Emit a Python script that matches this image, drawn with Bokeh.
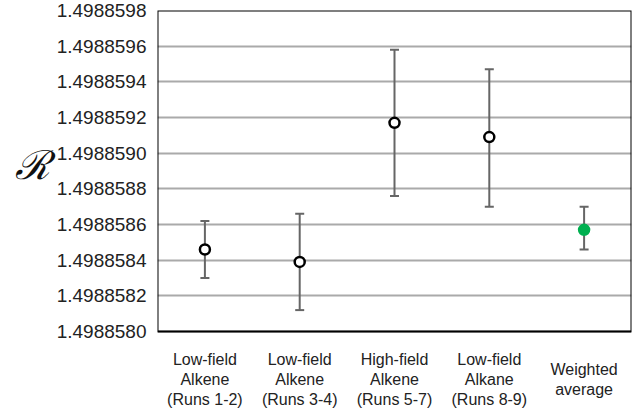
from bokeh.plotting import figure
from bokeh.models import Range1d, FixedTicker, PrintfTickFormatter, Whisker, ColumnDataSource, BoxAnnotation
from bokeh.core.properties import value
from bokeh.embed import file_html
from bokeh.resources import INLINE

categories = ["Low-field\nAlkene\n(Runs 1-2)", "Low-field\nAlkene\n(Runs 3-4)",
              "High-field\nAlkene\n(Runs 5-7)", "Low-field\nAlkane\n(Runs 8-9)",
              "Weighted\naverage"]
values = [1.49885846, 1.49885839, 1.49885917, 1.49885909, 1.49885857]
upper = [1.49885862, 1.49885866, 1.49885958, 1.49885947, 1.49885870]
lower = [1.49885830, 1.49885812, 1.49885876, 1.49885870, 1.49885846]
y_ticks = [1.4988580, 1.4988582, 1.4988584, 1.4988586, 1.4988588,
           1.4988590, 1.4988592, 1.4988594, 1.4988596, 1.4988598]

Y0, Y1 = y_ticks[0], y_ticks[-1]
BOX_H = 321          # pixel height of the boxed plot area
FRAME_H = 400        # frame also holds the category labels below the box
px = (Y1 - Y0) / BOX_H

p = figure(width=638, height=410, frame_width=474, frame_height=FRAME_H,
           x_range=categories, y_range=Range1d(Y1 - FRAME_H * px, Y1),
           output_backend="svg", toolbar_location=None,
           min_border_left=157, min_border_right=7, min_border_top=10, min_border_bottom=0)

p.background_fill_color = "white"
p.border_fill_color = "white"
p.outline_line_color = None

p.xgrid.grid_line_color = None
p.ygrid.grid_line_color = "#aaaaaa"
p.ygrid.grid_line_width = 2

p.add_layout(BoxAnnotation(bottom=Y0, top=Y1, fill_color=None, fill_alpha=0,
                           line_color="black", line_width=2, line_alpha=1))

p.yaxis.ticker = FixedTicker(ticks=y_ticks)
p.yaxis.formatter = PrintfTickFormatter(format="%.7f")
p.yaxis.major_label_text_font = "Liberation Sans"
p.yaxis.major_label_text_font_size = "19px"
p.yaxis.major_label_text_color = "#222222"
p.yaxis.major_tick_line_color = None
p.yaxis.minor_tick_line_color = None
p.yaxis.axis_line_color = None
p.yaxis.major_label_standoff = 5
p.yaxis.axis_label = "\u211b\n\n"
p.yaxis.axis_label_text_font = "DejaVu Serif"
p.yaxis.axis_label_text_font_style = "italic"
p.yaxis.axis_label_text_font_size = "40px"
p.yaxis.axis_label_text_line_height = 1.0
p.yaxis.axis_label_text_color = "#111111"
p.yaxis.axis_label_orientation = "horizontal"
p.yaxis.axis_label_standoff = 4

p.xaxis.visible = False

src = ColumnDataSource(dict(x=categories, y=values, upper=upper, lower=lower,
                            fill=["white"] * 4 + ["#00b050"],
                            line=["black"] * 4 + ["#00b050"]))

w = Whisker(base="x", upper="upper", lower="lower", source=src,
            line_color="#666666", line_width=2)
for h in (w.upper_head, w.lower_head):
    h.size = 9
    h.line_color = "#666666"
    h.line_width = 2
p.add_layout(w)

p.scatter("x", "y", source=src, size=10, fill_color="fill", line_color="line", line_width=2.5)

# category labels, centred vertically on a common line below the box
lab = ColumnDataSource(dict(x=categories, y=[Y0 - 48 * px] * len(categories), text=categories))
p.text("x", "y", text="text", source=lab, text_font=value("Liberation Sans"),
       text_font_size="16px", text_color="#222222", text_align="center",
       text_baseline="middle", text_line_height=1.15)

open("out.html", "w").write(file_html(p, INLINE))
